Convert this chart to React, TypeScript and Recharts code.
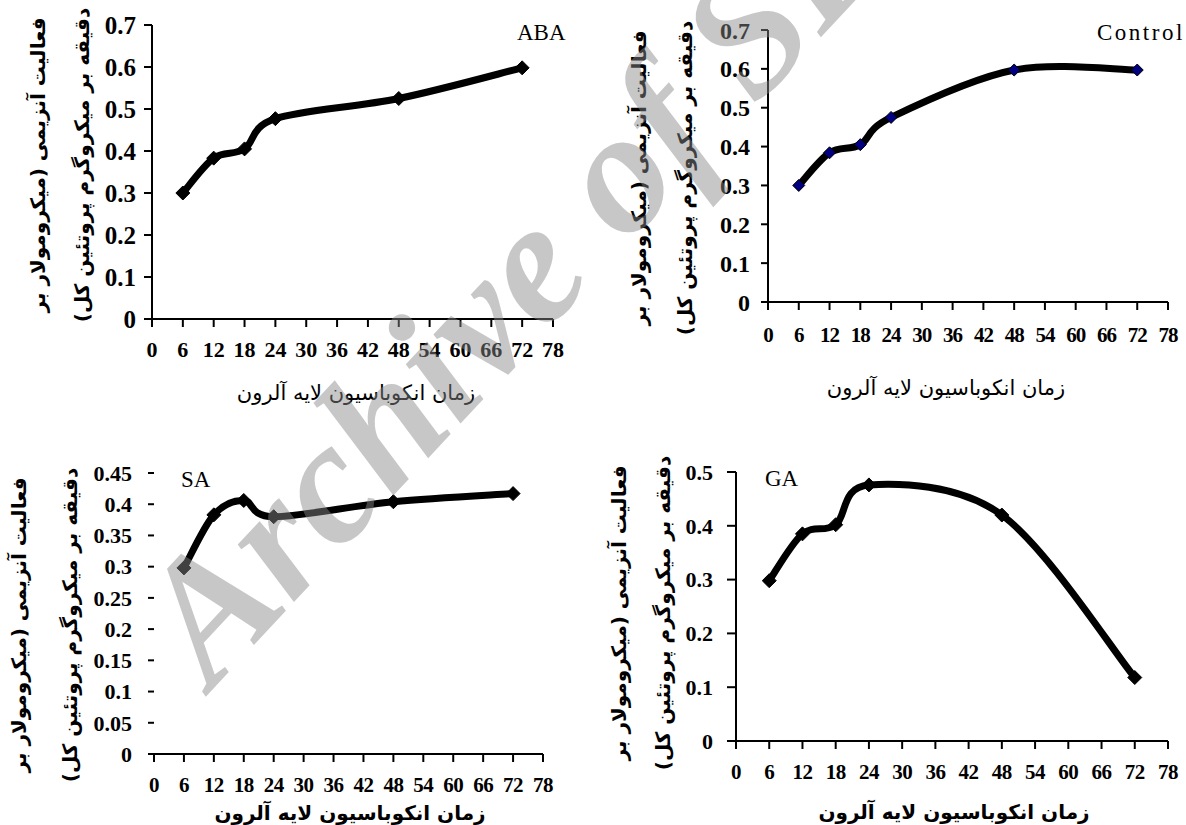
import React from "react";
import { LineChart, Line, XAxis, YAxis } from "recharts";

const hours = [6, 12, 18, 24, 48, 72];
const abaValues = [0.3, 0.383, 0.405, 0.477, 0.525, 0.598];
const controlValues = [0.3, 0.384, 0.405, 0.475, 0.597, 0.597];
const saValues = [0.298, 0.383, 0.406, 0.38, 0.404, 0.417];
const gaValues = [0.298, 0.385, 0.402, 0.476, 0.42, 0.118];

const xTicks = [0, 6, 12, 18, 24, 30, 36, 42, 48, 54, 60, 66, 72, 78];
const yTicksTop = [0, 0.1, 0.2, 0.3, 0.4, 0.5, 0.6, 0.7];
const yTicksSA = [0, 0.05, 0.1, 0.15, 0.2, 0.25, 0.3, 0.35, 0.4, 0.45];
const yTicksGA = [0, 0.1, 0.2, 0.3, 0.4, 0.5];

const yTitle1 = "فعالیت آنزیمی (میکرومولار بر";
const yTitle2 = "دقیقه بر میکروگرم پروتئین کل)";
const xTitle = "زمان انکوباسیون لایه آلرون";

const SERIF = '"Liberation Serif", "Times New Roman", serif';
const ARABIC = '"DejaVu Sans", sans-serif';

// smooth line like the spreadsheet one (catmull-rom through the points)
const smoothCurve = (context: any) => {
  let pts: number[][] = [];
  return {
    areaStart() {},
    areaEnd() {},
    lineStart() {
      pts = [];
    },
    point(x: number, y: number) {
      pts.push([+x, +y]);
    },
    lineEnd() {
      const n = pts.length;
      if (!n) return;
      context.moveTo(pts[0][0], pts[0][1]);
      for (let i = 0; i < n - 1; i++) {
        const p0 = pts[Math.max(i - 1, 0)];
        const p1 = pts[i];
        const p2 = pts[i + 1];
        const p3 = pts[Math.min(i + 2, n - 1)];
        context.bezierCurveTo(
          p1[0] + (p2[0] - p0[0]) / 6,
          p1[1] + (p2[1] - p0[1]) / 6,
          p2[0] - (p3[0] - p1[0]) / 6,
          p2[1] - (p3[1] - p1[1]) / 6,
          p2[0],
          p2[1]
        );
      }
    },
  };
};

const diamondDot = (fill: string, r: number) => (props: any) => {
  const { cx, cy, index } = props;
  if (cx == null || cy == null) return <g key={index} />;
  return (
    <polygon
      key={index}
      points={`${cx},${cy - r} ${cx + r},${cy} ${cx},${cy + r} ${cx - r},${cy}`}
      fill={fill}
      stroke="#000"
      strokeWidth={1}
    />
  );
};

type PanelProps = {
  values: number[];
  yMax: number;
  yTicks: number[];
  left: number;
  top: number;
  right: number;
  bottom: number;
  yFont: number;
  xFont: number;
  yTickSize: number;
  yTickMargin: number;
  xTickMargin: number;
  xSpacing?: number;
  dotFill: string;
  dotSize: number;
  yLine?: boolean;
};

function Panel(p: PanelProps) {
  const data = hours.map((h, i) => ({ h, v: p.values[i] }));
  const padL = 80;
  const padT = 20;
  const padR = 20;
  const padB = 50;
  const w = p.right - p.left + padL + padR;
  const h = p.bottom - p.top + padT + padB;
  return (
    <div style={{ position: "absolute", left: p.left - padL, top: p.top - padT }}>
      <LineChart width={w} height={h} data={data} margin={{ top: padT, right: padR, bottom: 0, left: 0 }}>
        <XAxis
          dataKey="h"
          type="number"
          domain={[0, 78]}
          ticks={xTicks}
          interval={0}
          height={padB}
          tickSize={8}
          tickMargin={p.xTickMargin}
          axisLine={{ stroke: "#000", strokeWidth: 2 }}
          tickLine={{ stroke: "#000", strokeWidth: 2 }}
          tick={{ fill: "#000", fontSize: p.xFont, fontWeight: "bold", fontFamily: SERIF, letterSpacing: p.xSpacing ?? 0 }}
        />
        <YAxis
          type="number"
          domain={[0, p.yMax]}
          ticks={p.yTicks}
          interval={0}
          width={padL}
          tickSize={p.yTickSize}
          tickMargin={p.yTickMargin}
          axisLine={p.yLine === false ? false : { stroke: "#000", strokeWidth: 2 }}
          tickLine={{ stroke: "#000", strokeWidth: 2 }}
          tick={{ fill: "#000", fontSize: p.yFont, fontWeight: "bold", fontFamily: SERIF }}
        />
        <Line
          dataKey="v"
          type={smoothCurve as any}
          stroke="#000"
          strokeWidth={7}
          dot={diamondDot(p.dotFill, p.dotSize)}
          isAnimationActive={false}
        />
      </LineChart>
    </div>
  );
}

function YTitle({ x1, x2, cy }: { x1: number; x2: number; cy: number }) {
  const style = (x: number): React.CSSProperties => ({
    position: "absolute",
    left: x,
    top: cy,
    transform: "translate(-50%, -50%) rotate(-90deg)",
    whiteSpace: "nowrap",
    direction: "rtl",
    fontFamily: ARABIC,
    fontWeight: "bold",
    fontSize: 20,
    color: "#000",
  });
  return (
    <>
      <div style={style(x1)}>{yTitle1}</div>
      <div style={style(x2)}>{yTitle2}</div>
    </>
  );
}

function XTitle({ cx, cy, bold }: { cx: number; cy: number; bold?: boolean }) {
  return (
    <div
      style={{
        position: "absolute",
        left: cx,
        top: cy,
        transform: "translate(-50%, -50%)",
        whiteSpace: "nowrap",
        direction: "rtl",
        fontFamily: ARABIC,
        fontWeight: bold ? "bold" : "normal",
        fontSize: bold ? 20 : 21,
        color: "#000",
      }}
    >
      {xTitle}
    </div>
  );
}

function Tag({ text, x, y, spacing }: { text: string; x: number; y: number; spacing?: number }) {
  return (
    <div
      style={{
        position: "absolute",
        left: x,
        top: y,
        transform: "translateY(-50%)",
        fontFamily: SERIF,
        fontSize: 23,
        letterSpacing: spacing ?? 0,
        color: "#000",
        whiteSpace: "nowrap",
      }}
    >
      {text}
    </div>
  );
}

export default function App() {
  return (
    <div
      style={{
        position: "absolute",
        left: 0,
        top: 0,
        width: 1186,
        height: 825,
        background: "#fff",
        overflow: "hidden",
      }}
    >
      <Panel
        values={abaValues}
        yMax={0.7}
        yTicks={yTicksTop}
        left={152}
        top={25}
        right={553}
        bottom={319}
        yFont={25}
        xFont={22}
        yTickSize={8}
        yTickMargin={8}
        xTickMargin={14}
        dotFill="#000"
        dotSize={7}
      />
      <Panel
        values={controlValues}
        yMax={0.7}
        yTicks={yTicksTop}
        left={768}
        top={30}
        right={1168}
        bottom={302}
        yFont={24}
        xFont={21}
        xSpacing={-1}
        yTickSize={7}
        yTickMargin={11}
        xTickMargin={17}
        dotFill="#000080"
        dotSize={6}
      />
      <Panel
        values={saValues}
        yMax={0.45}
        yTicks={yTicksSA}
        left={154}
        top={473}
        right={543}
        bottom={754}
        yFont={22}
        xFont={21}
        xSpacing={-0.5}
        yTickSize={6}
        yTickMargin={16}
        xTickMargin={15}
        dotFill="#000"
        dotSize={7}
        yLine={false}
      />
      <Panel
        values={gaValues}
        yMax={0.5}
        yTicks={yTicksGA}
        left={736}
        top={472}
        right={1168}
        bottom={741}
        yFont={22}
        xFont={21}
        xSpacing={-0.5}
        yTickSize={9}
        yTickMargin={14}
        xTickMargin={15}
        dotFill="#000"
        dotSize={7}
      />

      <YTitle x1={38} x2={82} cy={165} />
      <YTitle x1={639} x2={685} cy={178} />
      <YTitle x1={19} x2={70} cy={625} />
      <YTitle x1={619} x2={663} cy={613} />

      <XTitle cx={356} cy={393} />
      <XTitle cx={946} cy={388} />
      <XTitle cx={350} cy={813} bold />
      <XTitle cx={954} cy={812} bold />

      <Tag text="ABA" x={517} y={33} />
      <Tag text="Control" x={1097} y={33} spacing={2.5} />
      <Tag text="SA" x={181} y={480} />
      <Tag text="GA" x={765} y={479} />

      <svg
        width={1186}
        height={825}
        style={{ position: "absolute", left: 0, top: 0, pointerEvents: "none" }}
      >
        <text
          x={212}
          y={690}
          transform="rotate(-47 212 690)"
          fontFamily={SERIF}
          fontStyle="italic"
          fontWeight="bold"
          fontSize={175}
          fill="#888"
          fillOpacity={0.47}
        >
          Archive of SID
        </text>
      </svg>
    </div>
  );
}
